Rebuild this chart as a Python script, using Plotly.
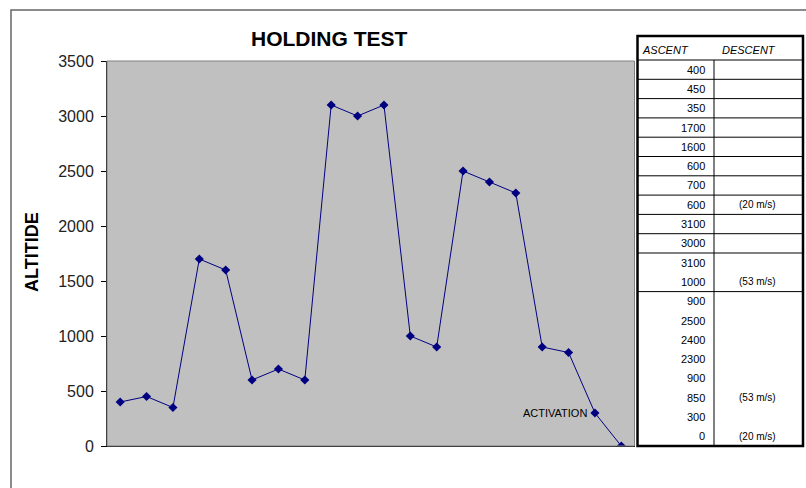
import plotly.graph_objects as go

# Altitude readings during the holding test (metres)
ascent = [400, 450, 350, 1700, 1600, 600, 700, 600, 3100, 3000,
          3100, 1000, 900, 2500, 2400, 2300, 900, 850, 300, 0]
# Descent-rate notes shown beside particular readings
descent_notes = {7: "(20 m/s)", 11: "(53 m/s)", 17: "(53 m/s)", 19: "(20 m/s)"}
y_ticks = [0, 500, 1000, 1500, 2000, 2500, 3000, 3500]
steps = list(range(len(ascent)))

W, H = 806, 488
NAVY = "#000080"

def px(x):
    return x / W

def py(y):
    return 1 - y / H

fig = go.Figure()
fig.add_trace(go.Scatter(
    x=steps, y=ascent, mode="lines+markers",
    line=dict(color=NAVY, width=1),
    marker=dict(symbol="diamond", size=7, color=NAVY),
    hoverinfo="y", showlegend=False,
))

shapes = []
annotations = []

def label(text, x, y, size=10, xanchor="center", **kw):
    annotations.append(dict(text=text, xref="paper", yref="paper", x=x, y=y,
                            xanchor=xanchor, yanchor="middle", showarrow=False,
                            font=dict(family="Arial", size=size, color="black"), **kw))

# Chart frame (top and left edges)
shapes.append(dict(type="path", xref="paper", yref="paper",
                   path=f"M {px(11)},{py(489)} L {px(11)},{py(10)} L {px(807)},{py(10)}",
                   line=dict(color="#666666", width=1.5)))

# Plot-area border
shapes.append(dict(type="rect", xref="x domain", yref="y domain",
                   x0=0, x1=1, y0=0, y1=1, line=dict(color="#808080", width=1),
                   layer="above"))

# Title and axis title
label("<b>HOLDING TEST</b>", px(329), py(38), size=21)
label("<b>ALTITIDE</b>", px(32), py(252), size=18, textangle=-90)

# Label at the activation point
annotations.append(dict(text="ACTIVATION", x=18, y=ascent[18], xref="x", yref="y",
                        xanchor="right", yanchor="middle", xshift=-6, showarrow=False,
                        font=dict(family="Arial", size=11, color="black")))

# Side table of readings
tx0, tx_mid, tx1 = 637.5, 714, 803
t_top, head_bot = 36, 60
row_h = (446 - head_bot) / len(ascent)
t_bot = head_bot + row_h * len(ascent)

def row_y(k):
    return head_bot + row_h * k

# row dividers: individual rows down to 3000, a shared cell for 3100/1000,
# then one block for the final descent
dividers = [0] + list(range(1, 11)) + [12]
for k in dividers:
    shapes.append(dict(type="line", xref="paper", yref="paper",
                       x0=px(tx0), x1=px(tx1), y0=py(row_y(k)), y1=py(row_y(k)),
                       line=dict(color="black", width=1)))
shapes.append(dict(type="line", xref="paper", yref="paper",
                   x0=px(tx_mid), x1=px(tx_mid), y0=py(head_bot), y1=py(t_bot),
                   line=dict(color="black", width=1)))
shapes.append(dict(type="rect", xref="paper", yref="paper",
                   x0=px(tx0), x1=px(tx1), y0=py(t_bot), y1=py(t_top),
                   line=dict(color="black", width=2.5)))

label("<i>ASCENT</i>", px(665), py(50), size=11)
label("<i>DESCENT</i>", px(749), py(50), size=11)
for i, v in enumerate(ascent):
    yc = row_y(i + 0.5)
    label(str(v), px(707), py(yc), size=11, xanchor="right")
    if i in descent_notes:
        label(descent_notes[i], px(757), py(yc), size=10)

fig.update_layout(
    width=W, height=H, autosize=False,
    margin=dict(l=0, r=0, t=0, b=0, pad=0, autoexpand=False),
    paper_bgcolor="white",
    plot_bgcolor="#C0C0C0",
    shapes=shapes,
    annotations=annotations,
    xaxis=dict(domain=[px(107), px(634.5)], range=[-0.5, len(ascent) - 0.5],
               showticklabels=False, showgrid=False, zeroline=False, automargin=False,
               showline=True, linecolor="black", linewidth=1, ticks=""),
    yaxis=dict(domain=[py(446), py(61)], range=[0, 3500], automargin=False,
               tickvals=y_ticks, showgrid=False, zeroline=False,
               showline=True, linecolor="black", linewidth=1,
               ticks="outside", ticklen=5, tickcolor="black", ticklabelstandoff=4,
               tickfont=dict(family="Arial", size=16, color="#222222")),
)

fig.write_html("out.html")
